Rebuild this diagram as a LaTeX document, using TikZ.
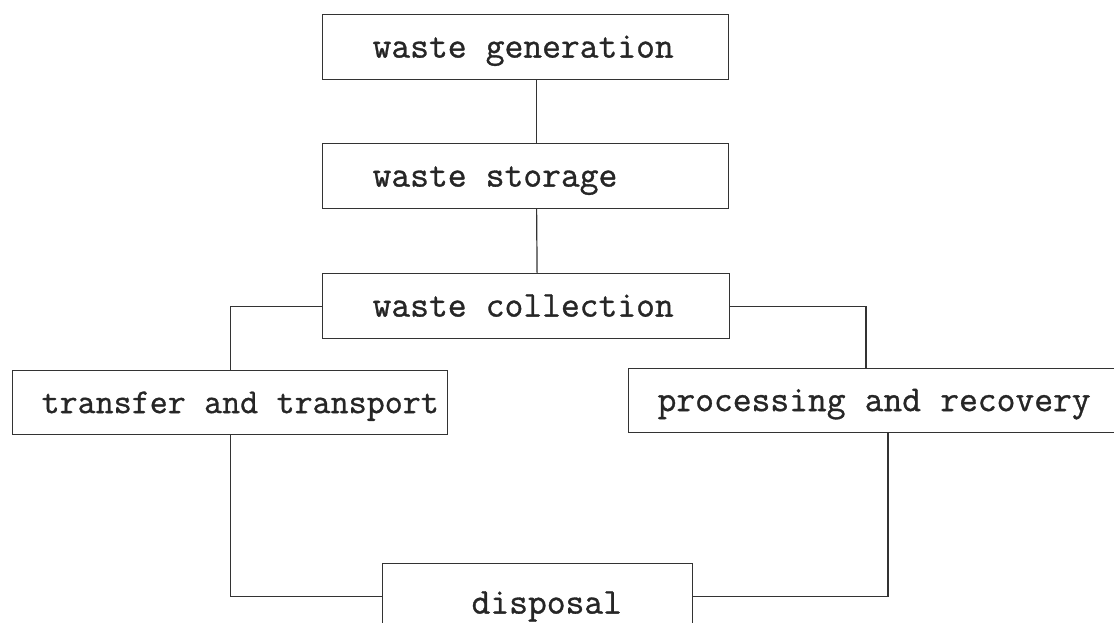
\documentclass[tikz,border=0pt]{standalone}
\usepackage{fontspec}
\newfontfamily\stagefont{Latin Modern Mono}[FakeBold=0.9]
\usepackage{tikz}

\tikzset{
  stagebox/.style={draw=black!80, line width=1.2pt, anchor=north west,
    inner xsep=0pt, inner ysep=14pt, text height=29pt, text depth=8pt,
    text=black!85, font=\stagefont\fontsize{36.5}{40}\selectfont,
    execute at begin node={\spaceskip=0.525em\relax}},
  link/.style={draw=black!80, line width=1.2pt}
}

\begin{document}
\begin{tikzpicture}[x=1pt, y=-1pt]
\path[use as bounding box, clip] (0,0) rectangle (1114,623);

% stages of the chain
\node[stagebox, text width=406pt] (gen) at (322,14) {\hspace*{50pt}waste generation};
\node[stagebox, text width=406pt] (stor) at (322,143) {\hspace*{50pt}waste storage};
\node[stagebox, text width=407pt] (coll) at (322,273) {\hspace*{50pt}waste collection};
\node[stagebox, text width=435pt, inner ysep=13.5pt, font=\stagefont\fontsize{35}{40}\selectfont] (trans) at (12,370) {\mbox{\hspace*{29pt}transfer and transport}};
\node[stagebox, text width=520pt, inner ysep=13.5pt] (proc) at (628,368) {\hspace*{29pt}processing and recovery};
\node[stagebox, text width=310pt, text height=36pt, text depth=2pt] (disp) at (382,563) {\hspace*{89pt}disposal};

% links
\draw[link] ([xshift=11pt]gen.south) -- ([xshift=11pt]stor.north);
\draw[link] ([xshift=11pt]stor.south) -- ([xshift=11pt]coll.north);
\draw[link] (coll.west) -| (trans.north);
\draw[link] (coll.east) -| ([xshift=238pt]proc.north west);
\draw[link] (trans.south) |- (disp.west);
\draw[link] ([xshift=260pt]proc.south west) |- (disp.east);
\end{tikzpicture}
\end{document}
